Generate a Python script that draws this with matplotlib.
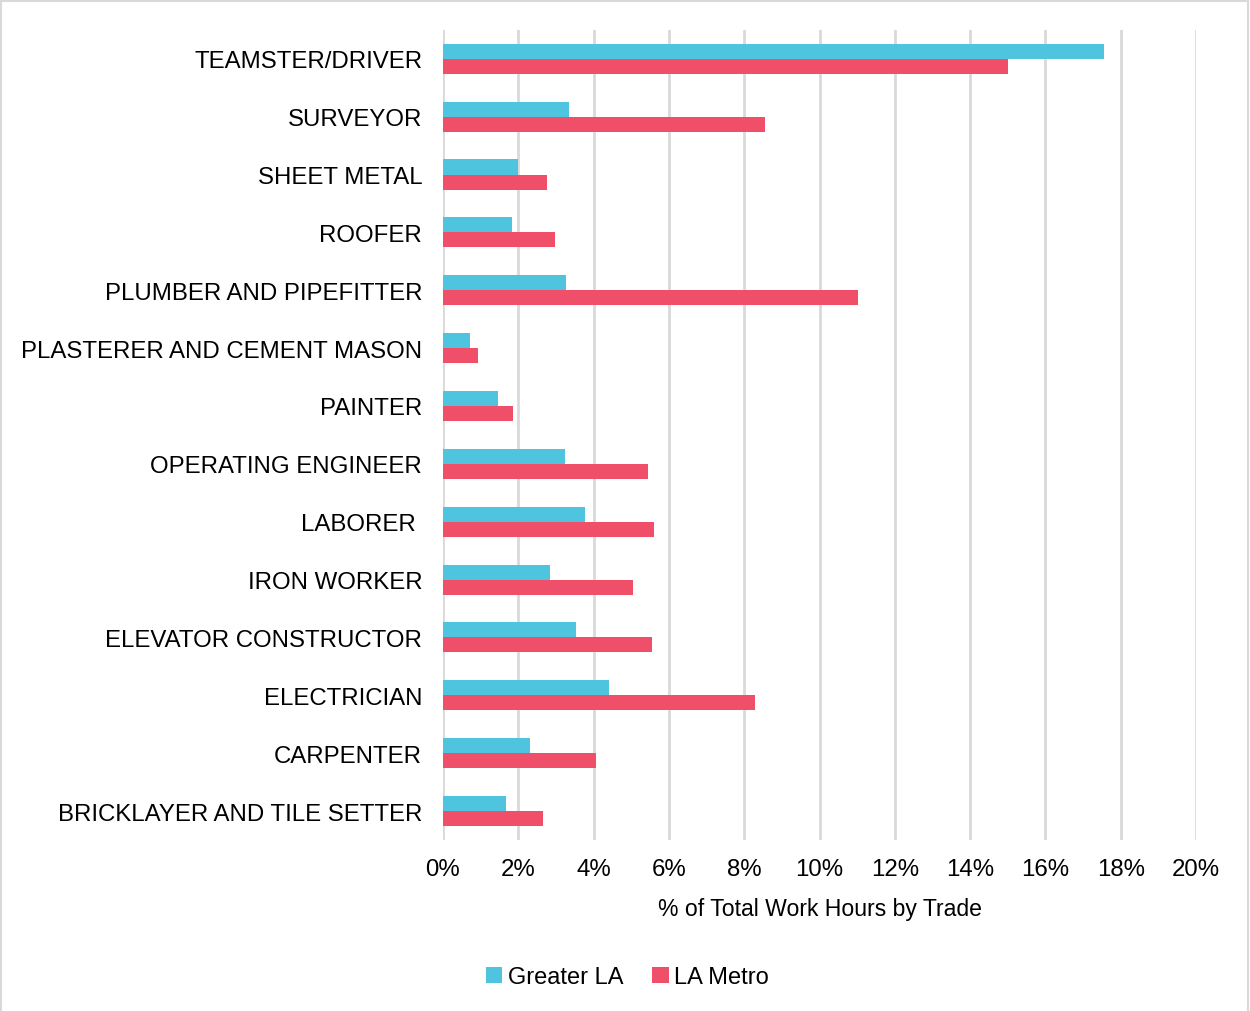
import matplotlib
matplotlib.use("Agg")
import numpy as np
import matplotlib.pyplot as plt
from matplotlib.patches import Rectangle
from matplotlib.ticker import FuncFormatter

# Trades, listed top to bottom as in the chart
trades = [
    "TEAMSTER/DRIVER",
    "SURVEYOR",
    "SHEET METAL",
    "ROOFER",
    "PLUMBER AND PIPEFITTER",
    "PLASTERER AND CEMENT MASON",
    "PAINTER",
    "OPERATING ENGINEER",
    "LABORER ",
    "IRON WORKER",
    "ELEVATOR CONSTRUCTOR",
    "ELECTRICIAN",
    "CARPENTER",
    "BRICKLAYER AND TILE SETTER",
]
# % of total work hours
greater_la = [17.55, 3.35, 2.0, 1.83, 3.27, 0.72, 1.46, 3.24, 3.77, 2.84, 3.53, 4.41, 2.31, 1.67]
la_metro = [15.0, 8.55, 2.76, 2.97, 11.02, 0.93, 1.86, 5.44, 5.6, 5.05, 5.55, 8.29, 4.06, 2.66]

cyan = "#4EC4DF"
red = "#F04F69"
grid_color = "#D9D9D9"
label_font = ["Liberation Sans", "DejaVu Sans"]

fig = plt.figure(figsize=(12.5, 10.12), dpi=100)
ax = fig.add_axes([0.3544, 0.169, 0.6024, 0.8005])

y = np.arange(len(trades))
h = 0.26
ax.barh(y - h / 2, greater_la, height=h, color=cyan, label="Greater LA", zorder=3)
ax.barh(y + h / 2, la_metro, height=h, color=red, label="LA Metro", zorder=3)

ax.set_ylim(len(trades) - 0.5, -0.5)
ax.set_xlim(0, 20)
ax.set_xticks(np.arange(0, 21, 2))
ax.xaxis.set_major_formatter(FuncFormatter(lambda v, _: f"{v:.0f}%"))
ax.set_yticks(y)
ax.set_yticklabels(trades, fontsize=17.3, family=label_font)
for lbl in ax.get_xticklabels():
    lbl.set_fontsize(17.3)
    lbl.set_family(label_font)
ax.tick_params(axis="both", length=0)
ax.tick_params(axis="y", pad=15)
ax.tick_params(axis="x", pad=13)

ax.grid(axis="x", color=grid_color, linewidth=2, zorder=0)
for side in ["top", "right", "bottom", "left"]:
    ax.spines[side].set_visible(False)

ax.set_xlabel("% of Total Work Hours by Trade", fontsize=16.6, family=label_font, labelpad=12)

leg = fig.legend(loc="center", bbox_to_anchor=(0.502, 0.0335), ncol=2, frameon=False,
                 prop={"family": label_font, "size": 17}, handlelength=0.7, handleheight=0.7,
                 handletextpad=0.25, columnspacing=1.2)

# light border around the chart area
fig.patches.append(Rectangle((0.001, -0.01), 0.997, 1.008, transform=fig.transFigure,
                             fill=False, edgecolor="#D9D9D9", linewidth=1.5))

fig.savefig("out.png", dpi=100, facecolor="white")
